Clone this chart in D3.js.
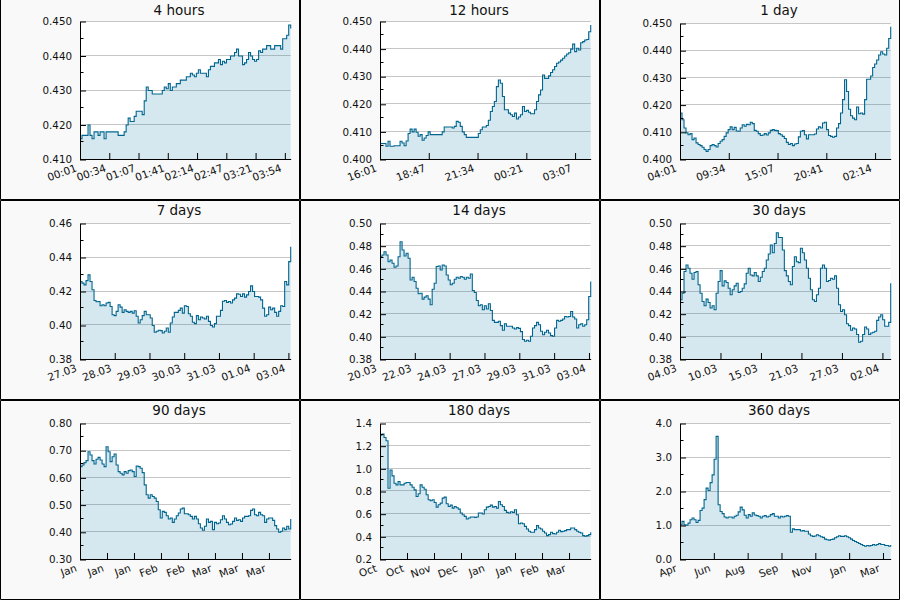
<!DOCTYPE html>
<html><head><meta charset="utf-8">
<script src="https://cdnjs.cloudflare.com/ajax/libs/d3/7.8.5/d3.min.js"></script>
<style>body{margin:0;background:#fff}svg{display:block}text{font-family:"DejaVu Sans",sans-serif}</style>
</head><body><svg id="c" width="900" height="600"></svg>
<script>
const titles = ["4 hours","12 hours","1 day","7 days","14 days","30 days","90 days","180 days","360 days"];
const xSpans = [240,720,1440,7,14,30,90,180,360];
const xTickSteps = [33.333,166.667,333.333,1.154,2.314,5.764,11.53,23.07,57.8];
const xTickLabels = [
  ["00:01","00:34","01:07","01:41","02:14","02:47","03:21","03:54"],
  ["16:01","18:47","21:34","00:21","03:07"],
  ["04:01","09:34","15:07","20:41","02:14"],
  ["27.03","28.03","29.03","30.03","31.03","01.04","03.04"],
  ["20.03","22.03","24.03","27.03","29.03","31.03","03.04"],
  ["04.03","10.03","15.03","21.03","27.03","02.04"],
  ["Jan","Jan","Jan","Feb","Feb","Mar","Mar","Mar"],
  ["Oct","Oct","Nov","Dec","Jan","Jan","Feb","Mar"],
  ["Apr","Jun","Aug","Sep","Nov","Jan","Mar"]
];
const yDomains = [[0.41,0.45],[0.40,0.45],[0.40,0.45],[0.38,0.46],[0.38,0.50],[0.38,0.50],[0.30,0.80],[0.2,1.4],[0,4]];
const yTickSteps = [0.01,0.01,0.01,0.02,0.02,0.02,0.1,0.2,1.0];
const yDecimals = [3,3,3,2,2,2,2,1,1];

const p4h = [0.416,0.417,0.417,0.417,0.420,0.417,0.416,0.418,0.418,0.417,0.418,0.418,0.416,0.418,0.418,0.418,0.418,0.418,0.418,0.417,0.417,0.417,0.418,0.420,0.422,0.421,0.421,0.4225,0.424,0.424,0.424,0.423,0.427,0.431,0.430,0.430,0.429,0.429,0.429,0.429,0.429,0.430,0.431,0.4305,0.432,0.430,0.431,0.431,0.432,0.432,0.433,0.433,0.433,0.434,0.434,0.435,0.4345,0.434,0.435,0.436,0.435,0.435,0.435,0.434,0.436,0.437,0.437,0.438,0.438,0.439,0.4375,0.4385,0.438,0.439,0.439,0.440,0.440,0.441,0.442,0.440,0.440,0.4375,0.438,0.439,0.441,0.440,0.439,0.4385,0.439,0.4415,0.441,0.442,0.442,0.443,0.443,0.442,0.442,0.443,0.443,0.443,0.442,0.445,0.445,0.446,0.449,0.448];
const p12h = [0.4058,0.4058,0.4058,0.4048,0.4066,0.4048,0.4048,0.405,0.405,0.405,0.4066,0.406,0.405,0.4067,0.4094,0.411,0.410,0.411,0.4099,0.4084,0.409,0.407,0.4078,0.4087,0.410,0.409,0.409,0.409,0.409,0.409,0.409,0.410,0.4118,0.4118,0.4118,0.4118,0.4114,0.412,0.4138,0.4135,0.412,0.410,0.409,0.408,0.408,0.408,0.408,0.408,0.408,0.4094,0.4108,0.4118,0.4118,0.4123,0.4142,0.4174,0.4192,0.421,0.4264,0.4288,0.4276,0.4228,0.418,0.418,0.4168,0.4162,0.4156,0.4168,0.4147,0.4154,0.4162,0.4192,0.4174,0.4178,0.4171,0.4166,0.4166,0.418,0.421,0.4234,0.4252,0.4306,0.4294,0.4294,0.4303,0.4315,0.4325,0.4337,0.4349,0.4353,0.436,0.4367,0.4375,0.4382,0.4387,0.440,0.4418,0.4391,0.4403,0.4397,0.4423,0.4427,0.4433,0.4435,0.4463,0.4487];
const p1d = [0.4171,0.4146,0.4116,0.4098,0.4091,0.4095,0.4073,0.4079,0.4061,0.4055,0.4051,0.4045,0.4037,0.403,0.4037,0.4051,0.4055,0.4051,0.4046,0.4059,0.4067,0.4073,0.4085,0.4098,0.411,0.412,0.411,0.4118,0.4105,0.4104,0.4116,0.4128,0.4122,0.4129,0.4128,0.4137,0.4132,0.4107,0.4104,0.4095,0.4088,0.409,0.4095,0.409,0.4098,0.4107,0.411,0.4107,0.4106,0.4095,0.4091,0.4085,0.4077,0.4063,0.4055,0.4059,0.4051,0.4057,0.4059,0.4083,0.4104,0.4106,0.4091,0.4076,0.4091,0.4091,0.4091,0.4094,0.4112,0.412,0.4116,0.4134,0.4137,0.411,0.4088,0.4085,0.4082,0.4085,0.4116,0.4132,0.4171,0.422,0.4293,0.425,0.4185,0.4161,0.4152,0.4146,0.4193,0.4168,0.4171,0.4167,0.422,0.4295,0.4295,0.4307,0.4338,0.4351,0.4366,0.4384,0.4396,0.4388,0.4384,0.4409,0.4445,0.4488];
const p7d = [0.4259,0.4249,0.4239,0.4264,0.4298,0.4259,0.421,0.4147,0.414,0.4141,0.4116,0.4122,0.4116,0.4132,0.4136,0.4112,0.4063,0.4058,0.4083,0.4122,0.4108,0.4077,0.4093,0.4083,0.4077,0.4083,0.4073,0.4087,0.4054,0.4015,0.4034,0.4058,0.4083,0.4063,0.4063,0.4044,0.400,0.396,0.3966,0.3972,0.397,0.3956,0.3966,0.3985,0.396,0.4015,0.405,0.4077,0.4077,0.4089,0.4102,0.4073,0.4116,0.4112,0.4069,0.4054,0.4019,0.4011,0.4058,0.4034,0.405,0.4044,0.4038,0.4054,0.4024,0.400,0.3991,0.4011,0.4054,0.4054,0.4089,0.4143,0.4147,0.4136,0.4141,0.4132,0.4151,0.4161,0.4186,0.4184,0.4171,0.4186,0.4167,0.418,0.420,0.4233,0.420,0.4171,0.4171,0.4167,0.4151,0.4102,0.4054,0.4063,0.4108,0.4093,0.4102,0.4077,0.4054,0.4083,0.4116,0.4112,0.4259,0.4239,0.4376,0.4463];
const p14d = [0.4707,0.4722,0.4751,0.4722,0.4663,0.4678,0.4649,0.4614,0.4625,0.4707,0.4839,0.4766,0.4713,0.4737,0.4693,0.4502,0.4526,0.4488,0.4429,0.438,0.4385,0.4333,0.435,0.4362,0.4333,0.4283,0.442,0.4473,0.462,0.4625,0.459,0.4634,0.4625,0.4546,0.4502,0.4459,0.4473,0.4508,0.4526,0.4517,0.4532,0.4526,0.4508,0.4526,0.4517,0.4555,0.4409,0.4391,0.4321,0.4274,0.4283,0.4239,0.4274,0.4245,0.4292,0.4233,0.4145,0.4128,0.4128,0.4137,0.4099,0.4058,0.4116,0.4093,0.4093,0.4093,0.4078,0.4069,0.4081,0.4075,0.4046,0.3976,0.3961,0.397,0.3961,0.4005,0.4078,0.4099,0.4128,0.4107,0.4049,0.4019,0.404,0.4058,0.4034,0.4011,0.4005,0.4078,0.4145,0.4137,0.4145,0.4157,0.418,0.4175,0.418,0.4224,0.4175,0.4157,0.4078,0.4107,0.4116,0.4093,0.4107,0.4151,0.4356,0.4488];
const p30d = [0.4327,0.4385,0.4576,0.4634,0.4605,0.4561,0.4508,0.4567,0.4576,0.4459,0.4385,0.4312,0.4274,0.4333,0.4303,0.4254,0.4274,0.4239,0.4385,0.4488,0.4584,0.445,0.4494,0.4479,0.4429,0.4371,0.4415,0.445,0.4473,0.4391,0.44,0.4429,0.4467,0.4561,0.4605,0.4546,0.4538,0.4567,0.4538,0.4488,0.4526,0.4576,0.4605,0.4678,0.4731,0.481,0.4742,0.4824,0.4918,0.4877,0.4877,0.4766,0.4584,0.4538,0.4488,0.4459,0.462,0.4707,0.4663,0.4655,0.4781,0.4742,0.4678,0.4605,0.4517,0.4415,0.4327,0.4312,0.4371,0.4429,0.4605,0.4634,0.4605,0.4488,0.4497,0.4517,0.4508,0.4538,0.4429,0.4283,0.4224,0.4239,0.4195,0.4116,0.4099,0.4058,0.4078,0.4069,0.402,0.3952,0.3961,0.402,0.4087,0.4069,0.402,0.4034,0.404,0.4049,0.4145,0.4175,0.4195,0.4151,0.4093,0.4093,0.4128,0.4473];
const p90d = [0.6415,0.6476,0.6561,0.6634,0.6963,0.6841,0.6634,0.6512,0.6683,0.6756,0.6659,0.6512,0.6415,0.7146,0.6963,0.6598,0.678,0.6878,0.6476,0.6232,0.6171,0.611,0.6232,0.6171,0.6268,0.6293,0.6232,0.6049,0.6439,0.6415,0.6354,0.6195,0.5744,0.5378,0.5256,0.5378,0.5317,0.5256,0.5134,0.4829,0.4524,0.4768,0.4732,0.461,0.4488,0.4524,0.4366,0.4488,0.461,0.4707,0.4854,0.489,0.4683,0.4683,0.4646,0.4585,0.4488,0.4585,0.4488,0.4317,0.4159,0.4073,0.422,0.4488,0.4366,0.4402,0.4098,0.4366,0.4317,0.4341,0.4463,0.461,0.4488,0.4366,0.428,0.4305,0.4402,0.4524,0.4439,0.4463,0.4402,0.4524,0.4585,0.4585,0.461,0.4805,0.4854,0.4646,0.461,0.4732,0.4646,0.461,0.4366,0.4488,0.4524,0.4524,0.4439,0.4244,0.4122,0.400,0.4037,0.4159,0.4098,0.422,0.4122,0.4488];
const p180d = [1.2976,1.3063,1.277,1.2478,0.829,0.99,0.9376,0.8732,0.8585,0.8878,0.8585,0.8585,0.8732,0.879,0.879,0.8585,0.838,0.8146,0.7561,0.7795,0.8585,0.838,0.8205,0.7707,0.7268,0.718,0.7268,0.7034,0.6624,0.6829,0.6976,0.7415,0.7502,0.6917,0.6683,0.68,0.6537,0.6683,0.6566,0.6449,0.6098,0.5951,0.5805,0.5571,0.5659,0.5746,0.5746,0.5717,0.5746,0.6098,0.6098,0.601,0.639,0.6624,0.6683,0.68,0.6624,0.6683,0.6537,0.7122,0.6829,0.6683,0.6332,0.6156,0.6098,0.6215,0.6156,0.639,0.5951,0.5161,0.522,0.5161,0.4927,0.4693,0.4488,0.44,0.44,0.4634,0.4985,0.478,0.4693,0.4488,0.4341,0.4107,0.4195,0.44,0.4283,0.4254,0.44,0.4576,0.4459,0.4488,0.4546,0.4634,0.4634,0.478,0.478,0.4634,0.4488,0.44,0.4341,0.4107,0.4049,0.4107,0.4195,0.44];
const p360d = [1.02,1.12,1.02,1.01,1.07,1.17,1.22,1.17,1.09,1.15,1.44,1.51,1.76,2.10,2.03,2.26,2.49,2.95,3.62,1.61,1.41,1.35,1.25,1.22,1.25,1.25,1.22,1.27,1.30,1.40,1.54,1.46,1.30,1.22,1.32,1.27,1.37,1.31,1.29,1.27,1.22,1.27,1.29,1.25,1.27,1.32,1.35,1.27,1.27,1.22,1.27,1.25,1.27,1.29,1.27,0.80,0.90,0.88,0.88,0.88,0.84,0.85,0.83,0.83,0.75,0.70,0.68,0.69,0.73,0.70,0.67,0.65,0.60,0.58,0.57,0.59,0.60,0.64,0.67,0.70,0.68,0.68,0.70,0.67,0.64,0.60,0.56,0.53,0.50,0.47,0.44,0.41,0.39,0.41,0.40,0.41,0.44,0.42,0.44,0.47,0.44,0.44,0.41,0.41,0.39,0.43];

const series = [p4h,p12h,p1d,p7d,p14d,p30d,p90d,p180d,p360d];

const LINE = "#006690";
const svg = d3.select("#c");

series.forEach((vals, k) => {
  const col = k % 3, row = Math.floor(k / 3);
  const g = svg.append("g").attr("transform", `translate(${col*300},${row*200})`);
  g.append("rect").attr("width", 300).attr("height", 200).attr("fill", "#f9f9f9");

  const top = k < 2 ? 21.5 : 23.5, bottom = 159.5, left = 80, right = 290.7;
  g.append("rect").attr("x", left).attr("y", top).attr("width", right-left).attr("height", bottom-top).attr("fill", "#fff");

  const [y0, y1] = yDomains[k];
  const x = d3.scaleLinear().domain([0, xSpans[k]]).range([left, right]);
  const y = d3.scaleLinear().domain([y0, y1]).range([bottom, top]);

  const n = Math.round((y1 - y0) / yTickSteps[k]);
  const major = d3.range(n + 1).map(i => y0 + i * yTickSteps[k]);
  const minor = d3.range(n).map(i => y0 + (i + 0.5) * yTickSteps[k]);

  g.append("g").selectAll("line").data(major.slice(1)).join("line")
    .attr("x1", left).attr("x2", right)
    .attr("y1", d => Math.round(y(d)) - 0.5).attr("y2", d => Math.round(y(d)) - 0.5)
    .attr("stroke", "#c6c6c6").attr("stroke-width", 1);

  const pts = vals.map((v, i) => [i * xSpans[k] / (vals.length - 1), v]);
  const area = d3.area().x(d => x(d[0])).y0(y(y0)).y1(d => y(d[1])).curve(d3.curveStepAfter);
  const line = d3.line().x(d => x(d[0])).y(d => y(d[1])).curve(d3.curveStepAfter);
  g.append("path").datum(pts).attr("d", area).attr("fill", "#00709c").attr("fill-opacity", 0.16);
  g.append("path").datum(pts).attr("d", line).attr("fill", "none").attr("stroke", LINE).attr("stroke-width", 1.1);

  const ya = d3.axisLeft(y).tickValues(major).tickFormat(d3.format(`.${yDecimals[k]}f`))
    .tickSizeInner(-6).tickSizeOuter(0).tickPadding(8);
  const gy = g.append("g").attr("transform", `translate(${left},0)`).call(ya);
  gy.selectAll("text").attr("font-size", "10.3px").attr("font-family", "DejaVu Sans").attr("fill", "#111");
  gy.selectAll("line, path").attr("stroke", "#000");
  g.append("g").selectAll("line").data(minor).join("line")
    .attr("x1", left).attr("x2", left + 3.5)
    .attr("y1", d => Math.round(y(d)) - 0.5).attr("y2", d => Math.round(y(d)) - 0.5)
    .attr("stroke", "#000");

  const xt = d3.range(xTickLabels[k].length).map(i => i * xTickSteps[k]);
  const xa = d3.axisBottom(x).tickValues(xt).tickSizeInner(-6).tickSizeOuter(0)
    .tickFormat((d, i) => xTickLabels[k][i]);
  const gx = g.append("g").attr("transform", `translate(0,${bottom - 0.5})`).call(xa);
  gx.selectAll("line, path").attr("stroke", "#000");
  gx.selectAll("text").attr("font-size", "10.5px").attr("font-family", "DejaVu Sans").attr("fill", "#111")
    .attr("text-anchor", "end").attr("x", 0).attr("y", 0).attr("dy", null)
    .attr("transform", "translate(-3,12) rotate(-20)");

  g.append("text").attr("x", 179).attr("y", 14.7).attr("text-anchor", "middle")
    .attr("font-size", "13.5px").attr("fill", "#111").text(titles[k]);

  const bd = row === 0 ? "M0.5,0V199.5H299.5V0" : "M0.5,0.5H299.5V199.5H0.5Z";
  g.append("path").attr("d", bd).attr("fill", "none").attr("stroke", "#000").attr("stroke-width", 1);
});
</script></body></html>
